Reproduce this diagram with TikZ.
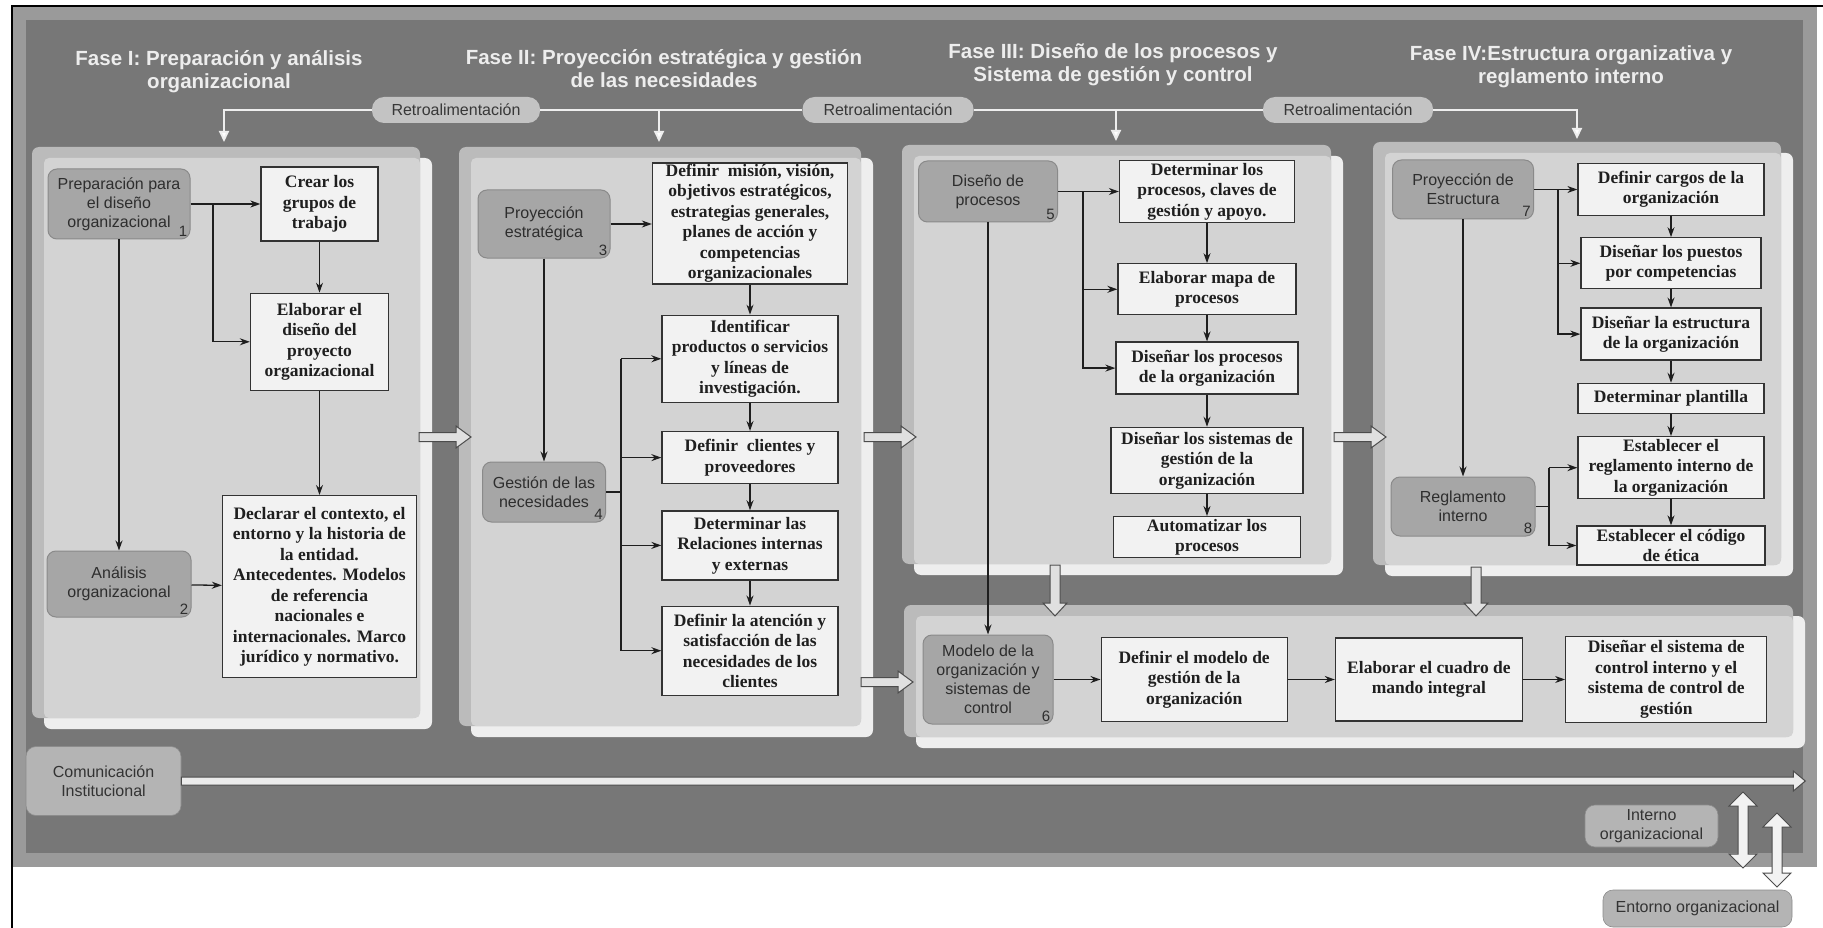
\documentclass[tikz,border=0pt]{standalone}
\usepackage{fontspec}
\setmainfont{Liberation Serif}
\setsansfont{Liberation Sans}
\usepackage{tikz}
\usetikzlibrary{arrows.meta, positioning}
\definecolor{colorBack}{HTML}{777777}
\definecolor{colorShade}{HTML}{9A9A9A}
\definecolor{colorPanelTop}{HTML}{BBBBBB}
\definecolor{colorPanelIn}{HTML}{D3D3D3}
\definecolor{colorPanelRim}{HTML}{EEEEEE}
\definecolor{colorKey}{HTML}{A6A6A6}
\definecolor{colorKeyLine}{HTML}{8A8A8A}
\definecolor{colorPill}{HTML}{C3C3C3}
\definecolor{colorEnv}{HTML}{B4B4B4}
\definecolor{colorTitle}{HTML}{EDEDED}
\definecolor{colorTask}{HTML}{F2F2F2}
\definecolor{colorInk}{HTML}{1E1E1E}
\tikzset{
  keynode/.style={draw=colorKeyLine, fill=colorKey, rounded corners=9pt, line width=1pt, align=center, text=black!82, font=\fontsize{16}{19}\sffamily\selectfont},
  keynum/.style={anchor=south east, inner sep=3pt, text=black!82, font=\fontsize{15}{15}\sffamily\selectfont},
  taskbox/.style={draw=black!80, fill=colorTask, line width=1.3pt, align=center, inner sep=1pt, text=black!88, font=\fontsize{17.5}{20.5}\bfseries\selectfont},
  pill/.style={fill=colorPill, rounded corners=12pt, align=center, text=black!78, font=\fontsize{16}{18}\sffamily\selectfont},
  envnode/.style={fill=colorEnv, draw=black!45, line width=0.6pt, rounded corners=10pt, align=center, text=black!80, font=\fontsize{16}{19}\sffamily\selectfont},
  fasetitle/.style={align=center, text=colorTitle, font=\fontsize{20.5}{23}\sffamily\bfseries\selectfont},
  link/.style={->, draw=colorInk, line width=1.3pt},
  feedback/.style={draw=colorPanelRim, line width=2pt},
  fbarrow/.style={feedback, -{Triangle[length=11pt, width=10pt, fill=white]}},
  fatarrow/.style={draw=black!70, fill=black!12, line width=1pt, line join=miter},
}
\newcommand{\fasepanel}[4]{%
  \fill[colorPanelRim, rounded corners=7pt] ({#1+12},{#2+11}) rectangle ({#3+12},{#4+11});
  \fill[colorPanelTop, rounded corners=7pt] (#1,#2) rectangle (#3,#4);
  \fill[colorPanelIn, rounded corners=5pt] ({#1+12},{#2+11}) rectangle (#3,#4);}
\newcommand{\fatright}[3]{%
  \draw[fatarrow] (#1,#2) ++(0,-4.5) -- ++({#3-15},0) -- ++(0,-6.5) -- ++(15,11) -- ++(-15,11) -- ++(0,-6.5) -- ++({15-#3},0) -- cycle;}
\newcommand{\fatdown}[3]{%
  \draw[fatarrow] (#1,#2) ++(-5,0) -- ++(0,{#3-13}) -- ++(-7,0) -- ++(12,13) -- ++(12,-13) -- ++(-7,0) -- ++(0,{13-#3}) -- cycle;}
\newcommand{\fatupdown}[3]{%
  \draw[fatarrow, fill=white!95!black] (#1,#2) -- ++(14,14) -- ++(-9,0) -- ++(0,{#3-#2-28}) -- ++(9,0) -- ++(-14,14) -- ++(-14,-14) -- ++(9,0) -- ++(0,{#2+28-#3}) -- ++(-9,0) -- cycle;}

\begin{document}
\begin{tikzpicture}[x=1pt, y=-1pt, >={Stealth[length=10pt, width=7pt]}]
\useasboundingbox (0,0) rectangle (1823,928);
\fill[white] (0,0) rectangle (1823,928);
\fill[colorShade] (12,6) rectangle (1817,867);
\fill[colorBack] (26,20) rectangle (1803,853);
\draw[black, line width=1.5pt] (12,928) -- (12,6) -- (1823,6);

\node[fasetitle] (t1) at (219,72) {Fase I: Preparación y análisis\\organizacional};
\node[fasetitle] (t2) at (664,69) {Fase II: Proyección estratégica y gestión\\de las necesidades};
\node[fasetitle] (t3) at (1113,65) {Fase III: Diseño de los procesos y\\Sistema de gestión y control};
\node[fasetitle] (t4) at (1571,67) {Fase IV:Estructura organizativa y\\reglamento interno};

\node[pill, minimum width=168pt, minimum height=26pt] (fb1) at (456,110) {Retroalimentación};
\node[pill, minimum width=171pt, minimum height=26pt] (fb2) at (888,110) {Retroalimentación};
\node[pill, minimum width=170pt, minimum height=26pt] (fb3) at (1348,110) {Retroalimentación};
\coordinate (in1) at (224,142);
\coordinate (in2) at (659,142);
\coordinate (in3) at (1116,141);
\coordinate (in4) at (1577,139);
\draw[fbarrow] (fb1.west) -| (in1);
\draw[feedback] (fb1.east) -- (fb2.west);
\draw[fbarrow] (in2 |- fb1.east) -- (in2);
\draw[feedback] (fb2.east) -- (fb3.west);
\draw[fbarrow] (in3 |- fb2.east) -- (in3);
\draw[fbarrow] (fb3.east) -| (in4);

\fasepanel{32}{147}{420}{718}
\fasepanel{459}{147}{861}{726}
\fasepanel{902}{145}{1331}{564}
\fasepanel{1373}{142}{1781}{565}
\fasepanel{904}{605}{1793}{737}

\node[keynode, minimum width=142pt, minimum height=70pt, label={[keynum]south east:1}] (prep) at (119,204) {Preparación para\\el diseño\\organizacional};
\node[taskbox, minimum width=117pt, minimum height=74pt] (crear) at (319.5,204) {Crear los\\grupos de\\trabajo};
\node[taskbox, minimum width=138pt, minimum height=97pt, below=51pt of crear] (elab) {Elaborar el\\diseño del\\proyecto\\organizacional};
\node[taskbox, minimum width=194pt, minimum height=182pt, below=104pt of elab] (decl) {Declarar el contexto, el\\entorno y la historia de\\la entidad.\\Antecedentes. Modelos\\de referencia\\nacionales e\\internacionales. Marco\\jurídico y normativo.};
\node[keynode, minimum width=144pt, minimum height=66pt, label={[keynum]south east:2}] (anal) at (119,584) {Análisis\\organizacional};
\coordinate (b1) at (213,204);
\draw[link] (prep) -- (crear);
\draw[link] (b1) |- (elab);
\draw[link] (prep) -- (anal);
\draw[link] (crear) -- (elab);
\draw[link] (elab) -- (decl);
\draw[link] (anal) -- (decl);

\node[keynode, minimum width=132pt, minimum height=68pt, label={[keynum]south east:3}] (proy) at (544,224) {Proyección\\estratégica};
\node[taskbox, minimum width=195pt, minimum height=121pt] (mision) at (750,223.5) {Definir\ \ misión, visión,\\objetivos estratégicos,\\estrategias generales,\\planes de acción y\\competencias\\organizacionales};
\node[taskbox, minimum width=176pt, minimum height=87pt, below=30pt of mision] (ident) {Identificar\\productos o servicios\\y líneas de\\investigación.};
\node[taskbox, minimum width=176pt, minimum height=52pt, below=28pt of ident] (clientes) {Definir\ \ clientes y\\proveedores};
\node[taskbox, minimum width=176pt, minimum height=69pt, below=26pt of clientes] (relac) {Determinar las\\Relaciones internas\\y externas};
\node[taskbox, minimum width=176pt, minimum height=89pt, below=25pt of relac] (atenc) {Definir la atención y\\satisfacción de las\\necesidades de los\\clientes};
\node[keynode, minimum width=123pt, minimum height=60pt, label={[keynum]south east:4}] (gest) at (544,492) {Gestión de las\\necesidades};
\coordinate (b2) at (621,492);
\draw[link] (proy.east) -- (proy.east -| mision.west);
\draw[link] (proy) -- (gest);
\draw[link] (mision) -- (ident);
\draw[link] (ident) -- (clientes);
\draw[link] (clientes) -- (relac);
\draw[link] (relac) -- (atenc);
\draw[colorInk, line width=1.3pt] (gest) -- (b2);
\draw[colorInk, line width=1.3pt] (b2 |- ident) -- (b2 |- atenc);
\foreach \t in {ident, clientes, relac, atenc} \draw[link] (b2 |- \t) -- (\t);

\node[keynode, minimum width=139pt, minimum height=61pt, label={[keynum]south east:5}] (disproc) at (988,191.5) {Diseño de\\procesos};
\node[taskbox, minimum width=175pt, minimum height=62pt] (detproc) at (1207,191.5) {Determinar los\\procesos, claves de\\gestión y apoyo.};
\node[taskbox, minimum width=178pt, minimum height=51pt, below=40pt of detproc] (mapa) {Elaborar mapa de\\procesos};
\node[taskbox, minimum width=182pt, minimum height=52pt, below=26pt of mapa] (disorg) {Diseñar los procesos\\de la organización};
\node[taskbox, minimum width=192pt, minimum height=66pt, below=32pt of disorg] (sist) {Diseñar los sistemas de\\gestión de la\\organización};
\node[taskbox, minimum width=187pt, minimum height=41pt, below=22pt of sist] (autom) {Automatizar los\\procesos};
\coordinate (b3) at (1083,191.5);
\draw[link] (disproc) -- (detproc);
\draw[link] (b3) |- (disorg);
\draw[link] (b3 |- mapa) -- (mapa);
\draw[link] (detproc) -- (mapa);
\draw[link] (mapa) -- (disorg);
\draw[link] (disorg) -- (sist);
\draw[link] (sist) -- (autom);

\node[keynode, minimum width=141pt, minimum height=59pt, label={[keynum]south east:7}] (proyest) at (1463,189.5) {Proyección de\\Estructura};
\node[taskbox, minimum width=186pt, minimum height=52pt] (cargos) at (1671,189.5) {Definir cargos de la\\organización};
\node[taskbox, minimum width=180pt, minimum height=51pt, below=21pt of cargos] (puestos) {Diseñar los puestos\\por competencias};
\node[taskbox, minimum width=180pt, minimum height=52pt, below=18pt of puestos] (estruc) {Diseñar la estructura\\de la organización};
\node[taskbox, minimum width=186pt, minimum height=30pt, below=22pt of estruc] (plant) {Determinar plantilla};
\node[taskbox, minimum width=186pt, minimum height=62pt, below=22pt of plant] (reglam) {Establecer el\\reglamento interno de\\la organización};
\node[taskbox, minimum width=188pt, minimum height=39pt, below=26pt of reglam] (etica) {Establecer el código\\de ética};
\node[keynode, minimum width=144pt, minimum height=59pt, label={[keynum]south east:8}] (reginter) at (1463,506.5) {Reglamento\\interno};
\coordinate (b4) at (1558,189.5);
\coordinate (b5) at (1549,506.5);
\draw[link] (proyest) -- (cargos);
\draw[link] (b4) |- (estruc);
\draw[link] (b4 |- puestos) -- (puestos);
\draw[link] (cargos) -- (puestos);
\draw[link] (puestos) -- (estruc);
\draw[link] (estruc) -- (plant);
\draw[link] (plant) -- (reglam);
\draw[link] (reglam) -- (etica);
\draw[link] (proyest) -- (reginter);
\draw[colorInk, line width=1.3pt] (reginter) -- (b5);
\draw[colorInk, line width=1.3pt] (b5 |- reglam) -- (b5 |- etica);
\draw[link] (b5 |- reglam) -- (reglam);
\draw[link] (b5 |- etica) -- (etica);

\node[keynode, minimum width=130pt, minimum height=89pt, label={[keynum]south east:6}] (modelo) at (988,679.5) {Modelo de la\\organización y\\sistemas de\\control\hspace{18pt}};
\node[taskbox, minimum width=186pt, minimum height=84pt, right=47pt of modelo] (defmod) {Definir el modelo de\\gestión de la\\organización};
\node[taskbox, minimum width=187pt, minimum height=83pt, right=47pt of defmod] (cuadro) {Elaborar el cuadro de\\mando integral};
\node[taskbox, minimum width=201pt, minimum height=86pt, right=42pt of cuadro] (control) {Diseñar el sistema de\\control interno y el\\sistema de control de\\gestión};
\draw[link] (disproc) -- (modelo);
\draw[link] (modelo) -- (defmod);
\draw[link] (defmod) -- (cuadro);
\draw[link] (cuadro) -- (control);

\fatright{419}{437}{52}
\fatright{864}{437}{52}
\fatright{1334}{437}{52}
\fatright{861}{682}{52}
\fatdown{1055}{565}{51}
\fatdown{1476}{567}{49}

\node[envnode, minimum width=155pt, minimum height=69pt] (comm) at (103.5,781) {Comunicación\\Institucional};
\draw[fatarrow, fill=black!8] (comm.east) ++(0,-4) -- ++(1612,0) -- ++(0,-6) -- ++(12,10) -- ++(-12,10) -- ++(0,-6) -- ++(-1612,0) -- cycle;
\node[envnode, minimum width=133pt, minimum height=42pt] (interno) at (1651.5,826) {Interno\\organizacional};
\fatupdown{1743}{792}{868}
\fatupdown{1777}{813}{887}
\node[envnode, minimum width=189pt, minimum height=37pt] (entorno) at (1697.5,908.5) {Entorno organizacional};
\end{tikzpicture}
\end{document}
